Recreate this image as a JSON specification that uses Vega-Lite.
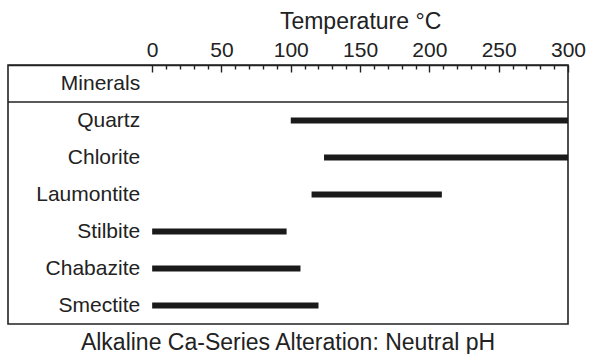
{
  "$schema": "https://vega.github.io/schema/vega-lite/v6.json",
  "width": 560,
  "height": 259,
  "autosize": "none",
  "padding": {"left": 8, "top": 65, "right": 23, "bottom": 30},
  "title": {
    "text": "Alkaline Ca-Series Alteration: Neutral pH",
    "orient": "bottom",
    "anchor": "middle",
    "fontSize": 23,
    "font": "Liberation Sans",
    "fontWeight": "normal",
    "color": "#222222",
    "offset": 8
  },
  "data": {
    "values": [
      {"mineral": "Minerals", "start": null, "end": null},
      {"mineral": "Quartz", "start": 100, "end": 300},
      {"mineral": "Chlorite", "start": 124, "end": 300},
      {"mineral": "Laumontite", "start": 115, "end": 209},
      {"mineral": "Stilbite", "start": 0, "end": 97},
      {"mineral": "Chabazite", "start": 0, "end": 107},
      {"mineral": "Smectite", "start": 0, "end": 120}
    ]
  },
  "encoding": {
    "y": {
      "field": "mineral",
      "type": "nominal",
      "sort": ["Minerals", "Quartz", "Chlorite", "Laumontite", "Stilbite", "Chabazite", "Smectite"],
      "scale": {"paddingInner": 0, "paddingOuter": 0},
      "axis": null
    }
  },
  "layer": [
    {
      "transform": [{"filter": "datum.start != null"}],
      "mark": {"type": "rule", "strokeWidth": 6, "color": "#1a1a1a", "strokeCap": "butt"},
      "encoding": {
        "x": {
          "field": "start",
          "type": "quantitative",
          "scale": {"domain": [-104, 300], "nice": false, "zero": false},
          "axis": {
            "orient": "top",
            "values": [0,10,20,30,40,50,60,70,80,90,100,110,120,130,140,150,160,170,180,190,200,210,220,230,240,250,260,270,280,290,300],
            "labelExpr": "datum.value % 50 === 0 ? datum.label : ''",
            "labelOverlap": false,
            "labelFlush": false,
            "labelFontSize": 21,
            "labelColor": "#222222",
            "labelPadding": 12,
            "grid": false,
            "domainColor": "#222222",
            "domainWidth": 1.6,
            "tickColor": "#222222",
            "tickWidth": 1.4,
            "tickSize": {"condition": {"test": "datum.value % 50 === 0", "value": -7}, "value": -4},
            "title": "Temperature °C",
            "titleFontSize": 23,
            "titleFontWeight": "normal",
            "titleColor": "#222222",
            "titlePadding": 3,
            "titleX": {"expr": "scale('x', 150)"}
          }
        },
        "x2": {"field": "end"}
      }
    },
    {
      "mark": {"type": "text", "align": "right", "baseline": "middle", "dx": -12, "fontSize": 21, "color": "#222222"},
      "encoding": {
        "x": {
          "datum": 0,
          "type": "quantitative",
          "scale": {"domain": [-104, 300], "nice": false, "zero": false},
          "axis": {
            "orient": "top",
            "values": [0,10,20,30,40,50,60,70,80,90,100,110,120,130,140,150,160,170,180,190,200,210,220,230,240,250,260,270,280,290,300],
            "labelExpr": "datum.value % 50 === 0 ? datum.label : ''",
            "labelOverlap": false,
            "labelFlush": false,
            "labelFontSize": 21,
            "labelColor": "#222222",
            "labelPadding": 12,
            "grid": false,
            "domainColor": "#222222",
            "domainWidth": 1.6,
            "tickColor": "#222222",
            "tickWidth": 1.4,
            "tickSize": {"condition": {"test": "datum.value % 50 === 0", "value": -7}, "value": -4},
            "title": "Temperature °C",
            "titleFontSize": 23,
            "titleFontWeight": "normal",
            "titleColor": "#222222",
            "titlePadding": 3,
            "titleX": {"expr": "scale('x', 150)"}
          }
        },
        "text": {"field": "mineral"}
      }
    },
    {
      "mark": {"type": "rule", "color": "#222222", "strokeWidth": 1.6},
      "encoding": {
        "x": {
          "datum": 0,
          "type": "quantitative",
          "scale": {"domain": [-104, 300], "nice": false, "zero": false},
          "axis": {
            "orient": "top",
            "values": [0,10,20,30,40,50,60,70,80,90,100,110,120,130,140,150,160,170,180,190,200,210,220,230,240,250,260,270,280,290,300],
            "labelExpr": "datum.value % 50 === 0 ? datum.label : ''",
            "labelOverlap": false,
            "labelFlush": false,
            "labelFontSize": 21,
            "labelColor": "#222222",
            "labelPadding": 12,
            "grid": false,
            "domainColor": "#222222",
            "domainWidth": 1.6,
            "tickColor": "#222222",
            "tickWidth": 1.4,
            "tickSize": {"condition": {"test": "datum.value % 50 === 0", "value": -7}, "value": -4},
            "title": "Temperature °C",
            "titleFontSize": 23,
            "titleFontWeight": "normal",
            "titleColor": "#222222",
            "titlePadding": 3,
            "titleX": {"expr": "scale('x', 150)"}
          }
        }
      }
    },
    {
      "transform": [{"filter": "datum.mineral === 'Minerals'"}],
      "mark": {"type": "rule", "color": "#222222", "strokeWidth": 1.6},
      "encoding": {
        "y": {"field": "mineral", "type": "nominal", "bandPosition": 1}
      }
    }
  ],
  "config": {
    "font": "Liberation Sans",
    "view": {"stroke": "#222222", "strokeWidth": 1.6}
  }
}
